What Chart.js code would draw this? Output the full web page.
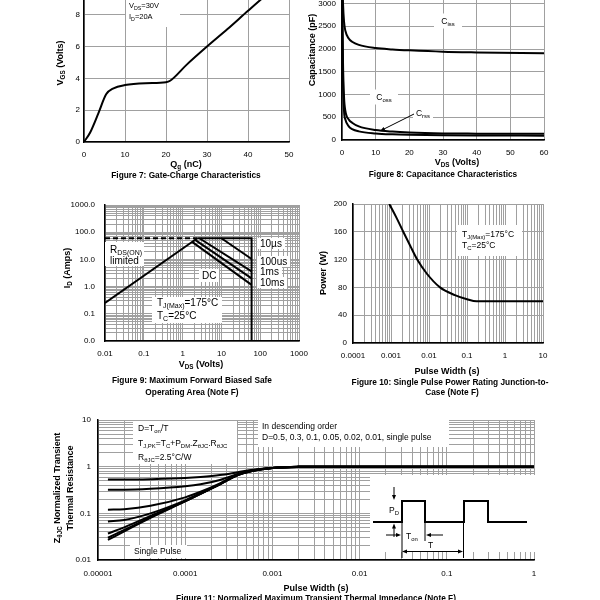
<!DOCTYPE html>
<html>
<head>
<meta charset="utf-8">
<script src="https://cdn.jsdelivr.net/npm/chart.js@4.4.1/dist/chart.umd.min.js"></script>
<style>
html, body { margin: 0; padding: 0; background: #fff; }
body { width: 600px; height: 600px; overflow: hidden; position: relative; font-family: 'Liberation Sans', Arial, sans-serif; }
canvas { position: absolute; }
.t { position: absolute; font-size: 8.5px; line-height: 10px; white-space: nowrap; color: #000; filter: grayscale(1); }
.box { background: #fff; }
.b { font-weight: bold; font-size: 9px; }
.cap { font-weight: bold; font-size: 8.3px; }
.f9 { font-size: 10px; line-height: 11px; }
.c { transform: translate(-50%, -50%); text-align: center; }
.r { transform: translate(-50%, -50%) rotate(-90deg); text-align: center; }
sub { font-size: 70%; vertical-align: -2px; line-height: 0; }
svg { position: absolute; left: 0; top: 0; }
</style>
</head>
<body>
<canvas id="fig7"></canvas>
<canvas id="fig8"></canvas>
<canvas id="fig9"></canvas>
<canvas id="fig10"></canvas>
<canvas id="fig11"></canvas>

<!-- figure 7 -->
<div class="t box" style="left:126px;top:0px;width:48px;padding:0 3px 5px 3px;line-height:11px;font-size:7.5px;">V<sub>DS</sub>=30V<br>I<sub>D</sub>=20A</div>
<div class="t b r" style="left:60px;top:63px;">V<sub>GS</sub> (Volts)</div>
<div class="t b c" style="left:186px;top:164px;">Q<sub>g</sub> (nC)</div>
<div class="t cap c" style="left:186px;top:175px;">Figure 7: Gate-Charge Characteristics</div>

<!-- figure 8 -->
<div class="t box c" style="left:448px;top:21px;width:28px;height:15px;line-height:15px;">C<sub>iss</sub></div>
<div class="t box c" style="left:384px;top:97px;width:28px;height:15px;line-height:15px;">C<sub>oss</sub></div>
<div class="t box c" style="left:423px;top:113px;width:20px;height:11px;line-height:11px;">C<sub>rss</sub></div>
<div class="t b r" style="left:312px;top:50px;">Capacitance (pF)</div>
<div class="t b c" style="left:457px;top:162px;">V<sub>DS</sub> (Volts)</div>
<div class="t cap c" style="left:443px;top:174px;">Figure 8: Capacitance Characteristics</div>

<!-- figure 9 -->
<div class="t box f9" style="left:105px;top:242px;width:34px;height:22px;padding:2px 0 0 5px;">R<sub>DS(ON)</sub><br>limited</div>
<div class="t box f9" style="left:152px;top:297px;width:65px;height:26px;padding:0 0 0 5px;line-height:12.7px;">T<sub>J(Max)</sub>=175°C<br>T<sub>C</sub>=25°C</div>
<div class="t box f9" style="left:257px;top:238px;padding:0 3px;">10µs</div>
<div class="t box f9" style="left:257px;top:256px;padding:0 3px;">100us</div>
<div class="t box f9" style="left:257px;top:266px;padding:0 3px;">1ms</div>
<div class="t box f9" style="left:257px;top:277px;padding:0 3px;">10ms</div>
<div class="t box f9" style="left:199px;top:269px;padding:1px 3px;">DC</div>
<div class="t b r" style="left:67px;top:268px;">I<sub>D</sub> (Amps)</div>
<div class="t b c" style="left:201px;top:364px;">V<sub>DS</sub> (Volts)</div>
<div class="t cap c" style="left:192px;top:380px;">Figure 9: Maximum Forward Biased Safe</div>
<div class="t cap c" style="left:192px;top:392px;">Operating Area (Note F)</div>

<!-- figure 10 -->
<div class="t box" style="left:457px;top:225px;width:60px;height:27px;padding:4px 0 0 5px;line-height:10.7px;">T<sub>J(Max)</sub>=175°C<br>T<sub>C</sub>=25°C</div>
<div class="t b r" style="left:323px;top:273px;">Power (W)</div>
<div class="t b c" style="left:447px;top:371px;">Pulse Width (s)</div>
<div class="t cap c" style="left:450px;top:382px;">Figure 10: Single Pulse Power Rating Junction-to-</div>
<div class="t cap c" style="left:452px;top:392px;">Case (Note F)</div>

<!-- figure 11 -->
<div class="t box" style="left:133px;top:421px;width:99px;height:43px;padding:0 0 0 5px;line-height:14.5px;">D=T<sub>on</sub>/T<br>T<sub>J,PK</sub>=T<sub>C</sub>+P<sub>DM</sub>.Z<sub>θJC</sub>.R<sub>θJC</sub><br>R<sub>θJC</sub>=2.5°C/W</div>
<div class="t box" style="left:258px;top:420px;width:187px;height:26px;padding:1px 0 0 4px;line-height:10.7px;">In descending order<br>D=0.5, 0.3, 0.1, 0.05, 0.02, 0.01, single pulse</div>
<div class="t box" style="left:130px;top:545px;width:53px;height:13px;padding:0 0 0 4px;line-height:13px;">Single Pulse</div>
<div class="t box" style="left:370px;top:475px;width:165px;height:77px;"></div>
<div class="t" style="left:389px;top:505px;">P<sub>D</sub></div>
<div class="t" style="left:406px;top:531px;">T<sub>on</sub></div>
<div class="t" style="left:428px;top:540px;">T</div>
<div class="t b r" style="left:64px;top:488px;line-height:13px;">Z<sub>θJC</sub> Normalized Transient<br>Thermal Resistance</div>
<div class="t b c" style="left:316px;top:588px;">Pulse Width (s)</div>
<div class="t cap c" style="left:316px;top:598px;">Figure 11: Normalized Maximum Transient Thermal Impedance (Note F)</div>

<svg width="600" height="600">
  <g stroke="#000" stroke-width="1" fill="none">
    <line x1="414" y1="114" x2="383" y2="129.5"/>
    <polyline stroke-width="2" points="373,522 402,522 402,501 425,501 425,522 464,522 464,501 488,501 488,522 527,522"/>
    <line x1="394" y1="487" x2="394" y2="496"/>
    <line x1="394" y1="537" x2="394" y2="528"/>
    <line x1="386" y1="535" x2="397" y2="535"/>
    <line x1="443" y1="535" x2="430" y2="535"/>
    <line x1="406" y1="551.5" x2="459" y2="551.5"/>
    <line x1="402" y1="522" x2="402" y2="558"/>
    <line x1="425" y1="522" x2="425" y2="541"/>
    <line x1="463.5" y1="522" x2="463.5" y2="558"/>
  </g>
  <g fill="#000">
    <polygon points="380,131 385.4,130.6 383.6,126.9"/>
    <polygon points="394,500 392,495 396,495"/>
    <polygon points="394,523.5 392,528.5 396,528.5"/>
    <polygon points="401,535 396,533 396,537"/>
    <polygon points="426,535 431,533 431,537"/>
    <polygon points="402,551.5 407,549.5 407,553.5"/>
    <polygon points="463,551.5 458,549.5 458,553.5"/>
  </g>
</svg>

<script>
// Figure 7: gate charge
const gateQg = [0, 1.5, 3.5, 5.4, 7.2, 10, 15, 20, 21, 25, 30, 35, 40, 44, 48];
const gateVgs = [0, 0.6, 1.8, 3.0, 3.38, 3.58, 3.7, 3.76, 3.85, 4.85, 6.0, 7.1, 8.25, 9.15, 10];

// Figure 8: capacitance
const capVds = [0, 0.3, 0.6, 1, 2, 3, 5, 10, 15, 20, 30, 40, 60];
const capCiss = [3800, 3000, 2600, 2400, 2230, 2160, 2090, 2020, 1990, 1970, 1940, 1925, 1905];
const capCoss = [3500, 1700, 950, 640, 450, 380, 300, 220, 185, 165, 145, 140, 135];
const capCrss = [3300, 1300, 640, 450, 300, 240, 190, 145, 125, 115, 105, 100, 95];

// Figure 9: safe operating area
const soaRdsV = [0.01, 2.4];
const soaRdsI = [0.25, 60];
const soaDashV = [0.01, 2.4];
const soaDashI = [60, 60];
const soaLimitV = [2.4, 60, 60];
const soaLimitI = [60, 60, 0.01];
const soa10usV = [10, 60];
const soa10usI = [60, 10.3];
const soa100usV = [2.7, 60];
const soa100usI = [60, 3.6];
const soa1msV = [2.1, 60];
const soa1msI = [52, 2.0];
const soaDcV = [1.76, 60];
const soaDcI = [44, 1.16];

// Figure 10: single pulse power
const pulseWidth = [0.0009, 0.0014, 0.0021, 0.0032, 0.0049, 0.0087, 0.0195, 0.048, 0.1, 0.18, 1, 10];
const pulsePower = [200, 180, 160, 140, 120, 100, 80, 69, 63, 60, 60, 60];

// Figure 11: normalized transient thermal impedance
const zWidth = [1.3e-5, 2e-5, 4e-5, 1e-4, 1.5e-4, 2.5e-4, 4e-4, 6e-4, 1e-3, 2e-3, 5e-3, 1e-2, 1e-1, 1];
const zD050 = [0.53, 0.53, 0.54, 0.57, 0.60, 0.66, 0.76, 0.86, 0.94, 0.99, 1, 1, 1, 1];
const zD030 = [0.32, 0.32, 0.335, 0.38, 0.42, 0.52, 0.70, 0.84, 0.94, 0.99, 1, 1, 1, 1];
const zD010 = [0.12, 0.123, 0.145, 0.22, 0.29, 0.44, 0.68, 0.83, 0.94, 0.99, 1, 1, 1, 1];
const zD005 = [0.067, 0.072, 0.10, 0.19, 0.27, 0.43, 0.67, 0.83, 0.94, 0.99, 1, 1, 1, 1];
const zD002 = [0.037, 0.050, 0.088, 0.185, 0.265, 0.42, 0.66, 0.82, 0.94, 0.99, 1, 1, 1, 1];
const zD001 = [0.030, 0.044, 0.083, 0.182, 0.262, 0.42, 0.66, 0.82, 0.94, 0.99, 1, 1, 1, 1];
const zSingle = [0.027, 0.041, 0.080, 0.18, 0.26, 0.42, 0.66, 0.82, 0.94, 0.99, 1, 1, 1, 1];

Chart.defaults.font.family = "'Liberation Sans', Arial, sans-serif";
Chart.defaults.font.size = 8;
Chart.defaults.color = '#000';

const Y_W = 40, X_H = 22;
const PAD = { left: 4, right: 18, top: 8, bottom: 2 };
const GRID = '#a0a0a0';

function place(id, l, t, r, b) {
    const c = document.getElementById(id);
    const w = (r - l) + Y_W + PAD.left + PAD.right;
    const h = (b - t) + X_H + PAD.top + PAD.bottom;
    c.width = w;
    c.height = h;
    c.style.width = w + 'px';
    c.style.height = h + 'px';
    c.style.left = (l - Y_W - PAD.left) + 'px';
    c.style.top = (t - PAD.top) + 'px';
    return c;
}

function fixY(s) { s.width = Y_W; s.paddingTop = 0; s.paddingBottom = 0; }
function fixX(s) { s.height = X_H; s.paddingLeft = 0; s.paddingRight = 0; }

function logTicks(lo, hi) {
    const out = [];
    for (let e = lo; e < hi; e++) {
        for (let m = 1; m < 10; m++) out.push({ value: Number(m + 'e' + e) });
    }
    out.push({ value: Number('1e' + hi) });
    return out;
}
const isDecade = v => Math.abs(Math.log10(v) - Math.round(Math.log10(v))) < 1e-9;

function linAxis(min, max, step, pad) {
    return {
        type: 'linear', min: min, max: max,
        ticks: { stepSize: step, padding: pad, maxRotation: 0, autoSkip: false, callback: v => String(v) },
        grid: { drawTicks: false, color: GRID, lineWidth: 1 },
        border: { color: '#000', width: 1.5 }
    };
}

function logAxis(lo, hi, pad, fmt) {
    return {
        type: 'logarithmic', min: Number('1e' + lo), max: Number('1e' + hi),
        afterBuildTicks: s => { s.ticks = logTicks(lo, hi); },
        ticks: { padding: pad, maxRotation: 0, autoSkip: false, callback: v => isDecade(v) ? fmt(v) : '' },
        grid: { drawTicks: false, color: GRID, lineWidth: 1 },
        border: { color: '#000', width: 1.5 }
    };
}

function xy(xs, ys) { return xs.map((x, i) => ({ x: x, y: ys[i] })); }

function line(xs, ys, extra) {
    return Object.assign({
        data: xy(xs, ys), borderColor: '#000', borderWidth: 2, pointRadius: 0,
        fill: false, tension: 0
    }, extra || {});
}
const smooth = { cubicInterpolationMode: 'monotone' };

function make(canvas, datasets, xs, ys) {
    xs.afterFit = fixX;
    ys.afterFit = fixY;
    return new Chart(canvas, {
        type: 'scatter',
        data: { datasets: datasets },
        options: {
            responsive: false, animation: false, events: [],
            layout: { padding: PAD },
            showLine: true,
            plugins: { legend: { display: false }, tooltip: { enabled: false } },
            scales: { x: xs, y: ys }
        }
    });
}

// Figure 7
make(place('fig7', 84, -17, 289, 142),
    [line(gateQg, gateVgs, smooth)],
    linAxis(0, 50, 10, 8), linAxis(0, 10, 2, 4));

// Figure 8
make(place('fig8', 342, -42, 544, 140),
    [line(capVds, capCiss, smooth), line(capVds, capCoss, smooth), line(capVds, capCrss, smooth)],
    linAxis(0, 60, 10, 8), linAxis(0, 4000, 500, 6));

// Figure 9
make(place('fig9', 105, 205, 299, 341),
    [
        line(soaRdsV, soaRdsI),
        line(soaDashV, soaDashI, { borderDash: [5, 3] }),
        line(soaLimitV, soaLimitI),
        line(soa10usV, soa10usI),
        line(soa100usV, soa100usI),
        line(soa1msV, soa1msI),
        line(soaDcV, soaDcI)
    ],
    logAxis(-2, 3, 8, v => String(v)),
    logAxis(-2, 3, 10, v => v.toFixed(1)));

// Figure 10
make(place('fig10', 353, 204, 543, 343),
    [line(pulseWidth, pulsePower, smooth)],
    logAxis(-4, 1, 8, v => String(v)), linAxis(0, 200, 40, 6));

// Figure 11
make(place('fig11', 98, 420, 534, 560),
    [
        line(zWidth, zD050, smooth), line(zWidth, zD030, smooth), line(zWidth, zD010, smooth),
        line(zWidth, zD005, smooth), line(zWidth, zD002, smooth), line(zWidth, zD001, smooth),
        line(zWidth, zSingle, smooth)
    ],
    logAxis(-5, 0, 9, v => String(v)),
    logAxis(-2, 1, 7, v => String(v)));
</script>
</body>
</html>
